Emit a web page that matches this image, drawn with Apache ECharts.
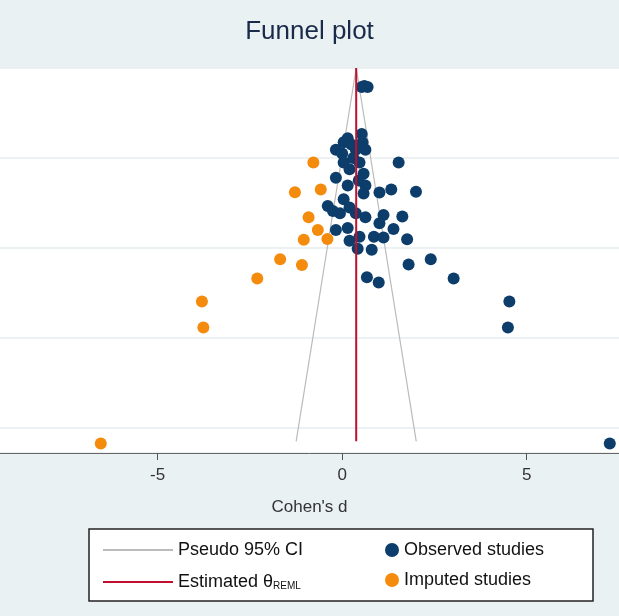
<!DOCTYPE html>
<html><head><meta charset="utf-8">
<script src="https://cdn.jsdelivr.net/npm/echarts@6/dist/echarts.min.js"></script>
<style>body{margin:0;background:#eaf1f3}#main{width:619px;height:616px}</style>
</head><body><div id="main"></div>
<script>
var theta = 0.38;
var seMax = 0.83;
var xTicks = [-5, 0, 5];
// [effect, standard error]
var observed = [
  [0.53,0.042],[0.69,0.042],[0.6,0.04],
  [0.53,0.147],[-0.17,0.182],[0.04,0.165],[0.37,0.182],[0.63,0.182],[0.15,0.156],
  [0.25,0.17],[0.0,0.19],[0.3,0.2],[0.55,0.165],
  [1.53,0.21],[0.04,0.21],[0.47,0.21],[0.2,0.225],
  [-0.17,0.244],[0.58,0.235],[0.63,0.261],[0.15,0.261],[0.45,0.25],
  [1.01,0.277],[1.33,0.27],[2.0,0.275],[0.58,0.279],
  [0.04,0.292],[-0.39,0.307],[-0.06,0.323],[0.37,0.323],[0.63,0.332],[1.12,0.327],
  [0.2,0.31],[-0.25,0.318],
  [1.63,0.33],[1.01,0.345],[1.39,0.358],[-0.17,0.36],[0.15,0.356],
  [0.86,0.375],[1.12,0.377],[1.76,0.381],[0.47,0.375],[0.2,0.384],
  [0.42,0.402],[0.8,0.404],[1.8,0.437],[2.4,0.425],
  [0.67,0.465],[0.99,0.477],[3.02,0.468],[4.53,0.519],[4.49,0.577],[7.25,0.835]
];
var imputed = [
  [-0.78,0.21],[-1.28,0.276],[-0.58,0.27],[-0.91,0.332],[-0.66,0.36],
  [-1.04,0.382],[-0.4,0.38],[-1.68,0.425],[-1.09,0.438],[-2.3,0.468],
  [-3.8,0.519],[-3.76,0.577],[-6.54,0.835]
];
var ciSE = [0, seMax];

var lower = ciSE.map(function (s) { return [theta - 1.96 * s, s]; });
var upper = ciSE.map(function (s) { return [theta + 1.96 * s, s]; });
var est = ciSE.map(function (s) { return [theta, s]; });

var font = 'Liberation Sans';
var myChart = echarts.init(document.getElementById('main'));
myChart.setOption({
  backgroundColor: '#eaf1f3',
  textStyle: { fontFamily: font },
  title: {
    text: 'Funnel plot', left: 'center', top: 14,
    textStyle: { fontSize: 26, fontWeight: 'normal', color: '#1a2a4a', fontFamily: font }
  },
  grid: { left: 0, right: 0, top: 68, height: 385, show: true, backgroundColor: '#fff', borderWidth: 0 },
  xAxis: {
    type: 'value', min: -9.27, max: 7.5, position: 'bottom',
    name: "Cohen's d", nameLocation: 'middle', nameGap: 46,
    nameTextStyle: { fontSize: 17, color: '#333' },
    axisLine: { onZero: false, lineStyle: { color: '#666' } },
    axisTick: { customValues: xTicks, length: 7, lineStyle: { color: '#555' } },
    axisLabel: { customValues: xTicks, fontSize: 17, color: '#333', margin: 14 },
    splitLine: { show: false }
  },
  yAxis: {
    type: 'value', inverse: true, min: 0, max: 0.856, interval: 0.2,
    axisLine: { show: false }, axisTick: { show: false }, axisLabel: { show: false },
    splitLine: { lineStyle: { color: '#e6eef1', width: 1.5 } }
  },
  legend: [{
    data: ['Pseudo 95% CI', 'Estimated'], orient: 'vertical', left: 98, top: 536,
    itemWidth: 70, itemHeight: 2, itemGap: 14, icon: 'rect',
    formatter: function (n) { return n === 'Estimated' ? 'Estimated θ{s|REML}' : n; },
    textStyle: { fontSize: 18, color: '#111', rich: { s: { fontSize: 10, verticalAlign: 'bottom', padding: [8, 0, 0, 0] } } }
  }, {
    data: ['Observed studies', 'Imputed studies'], orient: 'vertical', left: 380, top: 536,
    itemWidth: 14, itemHeight: 14, itemGap: 12,
    textStyle: { fontSize: 18, color: '#111' }
  }],
  graphic: [{
    type: 'rect', shape: { x: 89, y: 529, width: 504, height: 72 },
    style: { fill: '#fff', stroke: '#222', lineWidth: 1.5 }, z: -1
  }],
  series: [
    { name: 'Pseudo 95% CI', type: 'line', data: lower, symbol: 'none', itemStyle: { color: '#bbb' }, lineStyle: { color: '#bbb', width: 1.2 } },
    { name: 'Pseudo 95% CI', type: 'line', data: upper, symbol: 'none', itemStyle: { color: '#bbb' }, lineStyle: { color: '#bbb', width: 1.2 } },
    { name: 'Observed studies', type: 'scatter', data: observed, symbolSize: 12, itemStyle: { color: '#0d3d6b', opacity: 1 }, z: 3 },
    { name: 'Imputed studies', type: 'scatter', data: imputed, symbolSize: 12, itemStyle: { color: '#f58b0c', opacity: 1 }, z: 3 },
    { name: 'Estimated', type: 'line', data: est, symbol: 'none', itemStyle: { color: '#c0102e' }, lineStyle: { color: '#c0102e', width: 2 }, z: 4 }
  ]
});
</script></body></html>
